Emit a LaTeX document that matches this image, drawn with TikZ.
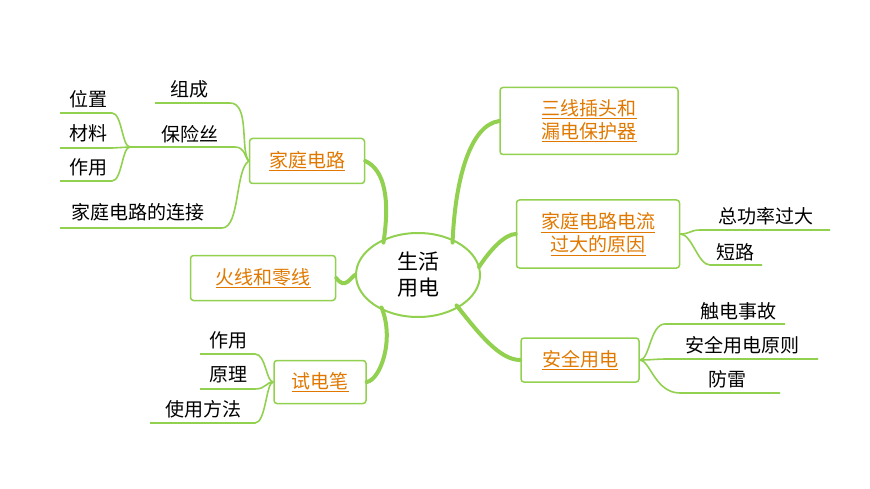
\documentclass[tikz,border=0pt]{standalone}
\usepackage{fontspec}
\usetikzlibrary{shapes.geometric}
\newfontfamily\cjk{Noto Sans CJK SC}
\definecolor{gr}{RGB}{146,208,80}
\definecolor{org}{RGB}{224,120,0}
\begin{document}
\begin{tikzpicture}[x=1pt,y=-1pt,font=\cjk\fontsize{19}{23}\selectfont,
  box/.style={draw=gr,line width=1.5pt,rounded corners=3pt,text=org,align=center,inner sep=4pt},
  leaf/.style={inner sep=1pt},
  br/.style={gr,line width=4pt,line cap=round},
  ln/.style={gr,line width=1.6pt}]
\useasboundingbox (0,0) rectangle (870,489);
\node[draw=gr,line width=2pt,ellipse,minimum width=124pt,minimum height=84pt,align=center,inner sep=0pt,font=\cjk\fontsize{21}{26}\selectfont] (c) at (418,275) {生活\\用电};
\node[box,minimum width=115pt,minimum height=45pt] (b1) at (307,161) {\underline{家庭电路}};
\node[box,minimum width=145pt,minimum height=45pt] (b2) at (263,278) {\underline{火线和零线}};
\node[box,minimum width=92pt,minimum height=43pt] (b3) at (320,382) {\underline{试电笔}};
\node[box,minimum width=178pt,minimum height=67pt] (b4) at (589,121) {\underline{三线插头和}\\\underline{漏电保护器}};
\node[box,minimum width=163pt,minimum height=68pt,inner sep=2pt] (b5) at (598,234) {\underline{家庭电路电流}\\\underline{过大的原因}};
\node[box,minimum width=118pt,minimum height=44pt] (b6) at (580,360) {\underline{安全用电}};
% main branches
\draw[br] (c.north west) ++(10,-2) coordinate (c1) .. controls (390,200) and (385,170) .. (b1.east);
\draw[br] (c.west) .. controls (350,278) and (345,290) .. (b2.east);
\draw[br] (c.south west) ++(8,2) .. controls (395,340) and (380,380) .. (b3.east);
\draw[br] (c.north east) ++(-10,-2) .. controls (455,180) and (470,125) .. (b4.west);
\draw[br] (c.east) ++(-2,-8) .. controls (490,250) and (505,234) .. (b5.west);
\draw[br] (c.south east) ++(-6,0) .. controls (480,335) and (500,360) .. (b6.west);
% left leaves of b1
\node[leaf] (l1) at (189,89) {组成};
\node[leaf] (l2) at (190,134) {保险丝};
\node[leaf] (l3) at (138,212) {家庭电路的连接};
\coordinate (u1a) at (155,103); \coordinate (u1b) at (230,103);
\coordinate (u2a) at (130,147); \coordinate (u2b) at (235,147);
\coordinate (u3a) at (60,228); \coordinate (u3b) at (222,228);
\draw[ln] (u1a) -- (u1b) .. controls (250,103) and (240,150) .. (b1.west);
\draw[ln] (u2a) -- (u2b) .. controls (245,147) and (245,158) .. (b1.west);
\draw[ln] (u3a) -- (u3b) .. controls (240,228) and (235,170) .. (b1.west);
\node[leaf] (s1) at (88,99) {位置};
\node[leaf] (s2) at (88,133) {材料};
\node[leaf] (s3) at (88,167) {作用};
\draw[ln] (60,113) -- (112,113) .. controls (122,113) and (122,147) .. (u2a);
\draw[ln] (60,148) -- (112,148) -- (u2a);
\draw[ln] (60,181) -- (112,181) .. controls (122,181) and (122,147) .. (u2a);
% b3 leaves
\node[leaf] (t1) at (228,340) {作用};
\node[leaf] (t2) at (228,375) {原理};
\node[leaf] (t3) at (203,409) {使用方法};
\draw[ln] (200,354) -- (255,354) .. controls (266,354) and (266,382) .. (b3.west);
\draw[ln] (200,389) -- (255,389) .. controls (266,389) and (266,382) .. (b3.west);
\draw[ln] (150,423) -- (255,423) .. controls (266,423) and (266,382) .. (b3.west);
% b5 leaves
\node[leaf] (r1) at (766,216) {总功率过大};
\node[leaf] (r2) at (735,252) {短路};
\draw[ln] (b5.east) .. controls (690,234) and (690,230) .. (700,230) -- (830,230);
\draw[ln] (b5.east) .. controls (692,234) and (698,265) .. (710,265) -- (762,265);
% b6 leaves
\node[leaf] (q1) at (738,311) {触电事故};
\node[leaf] (q2) at (742,345) {安全用电原则};
\node[leaf] (q3) at (727,379) {防雷};
\draw[ln] (b6.east) .. controls (650,360) and (650,324) .. (665,324) -- (785,324);
\draw[ln] (b6.east) .. controls (652,360) and (655,359) .. (668,359) -- (818,359);
\draw[ln] (b6.east) .. controls (650,360) and (655,393) .. (680,393) -- (780,393);
\end{tikzpicture}
\end{document}
